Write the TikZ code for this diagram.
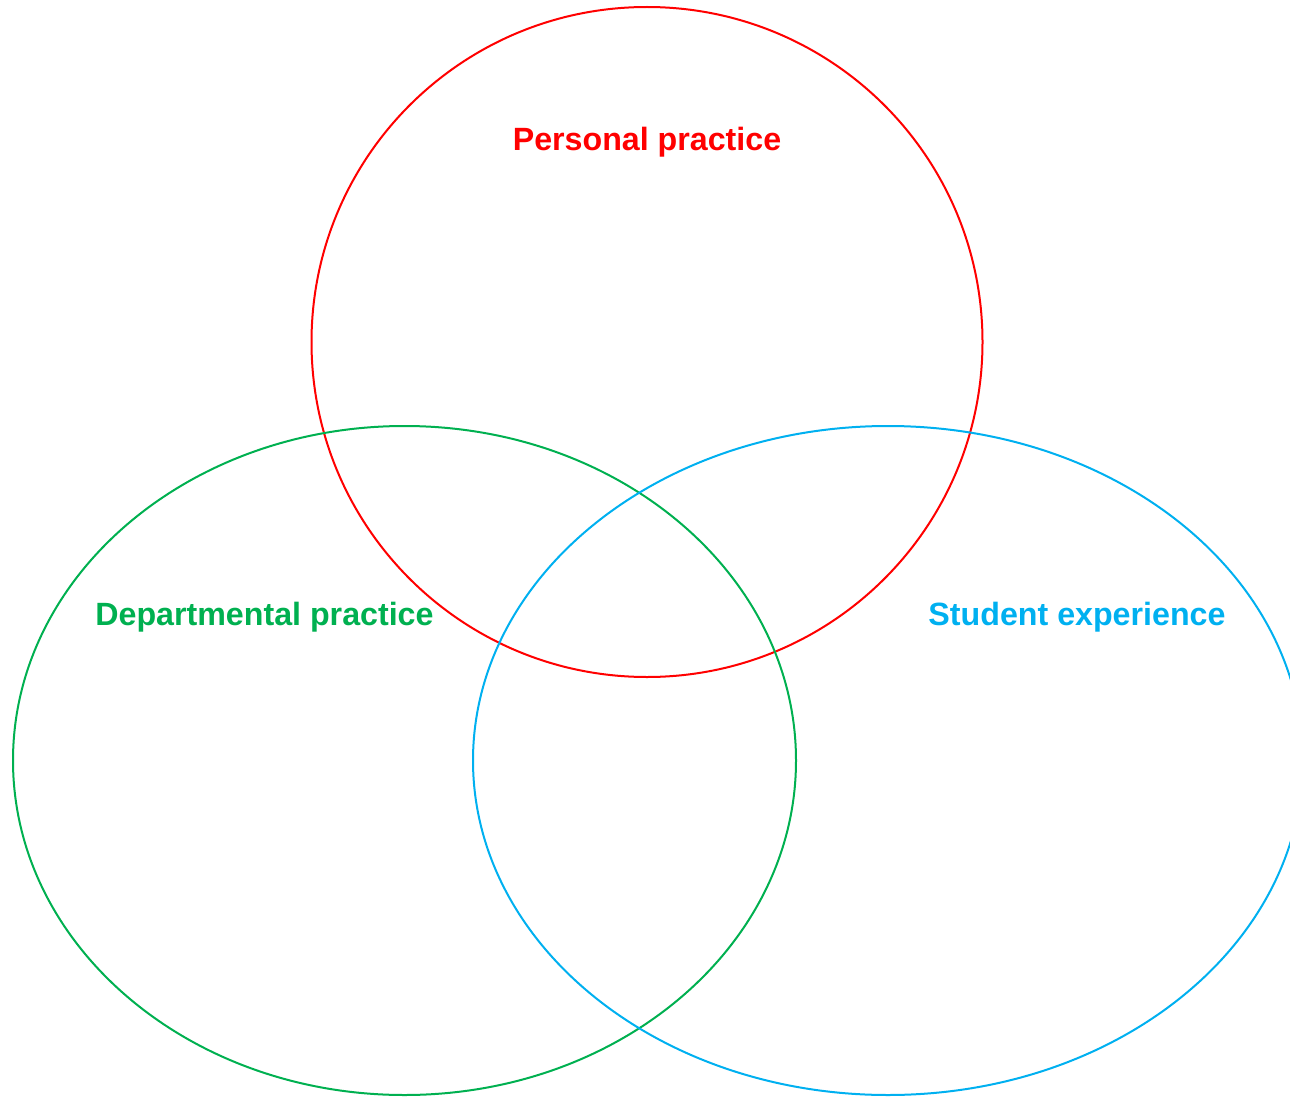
\documentclass[tikz,border=0pt]{standalone}
\usepackage{fontspec}
\setmainfont{Liberation Sans}
\definecolor{pred}{HTML}{FF0000}
\definecolor{pgreen}{HTML}{00B050}
\definecolor{pblue}{HTML}{00B0F0}
\begin{document}
\begin{tikzpicture}[x=1pt,y=-1pt,
  ring/.style={line width=2pt},
  lab/.style={font=\bfseries\fontsize{32.2}{36}\selectfont, inner sep=0pt, anchor=center}]
\useasboundingbox (0,0) rectangle (1290,1097);
\clip (0,0) rectangle (1290,1097);
\draw[ring, pred] (647,342) ellipse [x radius=335.5, y radius=335];
\draw[ring, pgreen] (404.5,760.5) ellipse [x radius=391.5, y radius=334.5];
\draw[ring, pblue] (888,760.5) ellipse [x radius=415, y radius=334.5];
\node[lab, text=pred] (personal) at (647,142.5) {Personal practice};
\node[lab, text=pgreen] (dept) at (264.5,617.5) {Departmental practice};
\node[lab, text=pblue] (student) at (1077,617.5) {Student experience};
\end{tikzpicture}
\end{document}
